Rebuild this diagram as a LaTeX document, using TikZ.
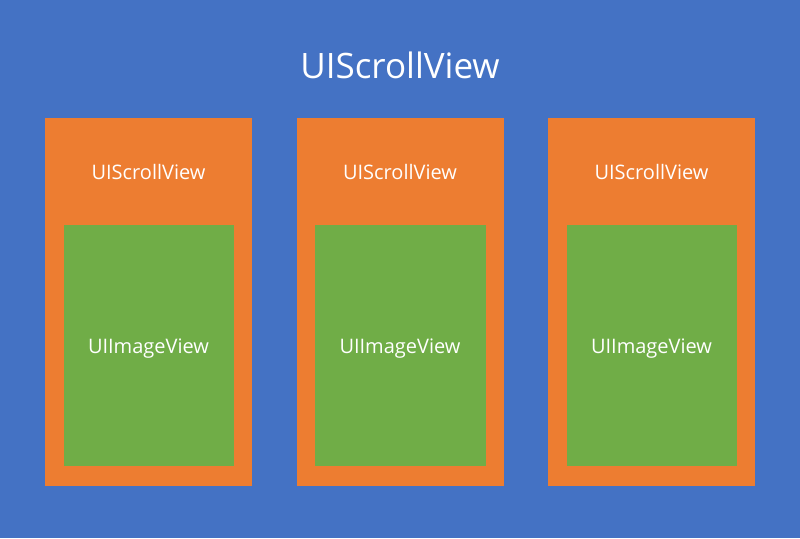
\documentclass[tikz,border=0pt]{standalone}
\usepackage{fontspec}
\setmainfont{Open Sans}
\usepackage{tikz}

\definecolor{viewblue}{HTML}{4472C4}
\definecolor{viewgreen}{HTML}{70AD47}
\definecolor{vieworange}{HTML}{ED7D31}

\begin{document}
\begin{tikzpicture}[x=1pt,y=-1pt,
  label/.style={text=white,inner sep=0pt,font=\fontsize{20}{24}\selectfont}]
\def\boxw{207}
\def\boxh{368}

\fill[viewblue] (0,0) rectangle (800,538);
\node[text=white,inner sep=0pt,font=\fontsize{35}{42}\selectfont] (outer) at (400,65) {UIScrollView};

\fill[vieworange] (45,118) rectangle +(\boxw,\boxh);
\fill[viewgreen] (63.5,225) rectangle +(170.5,241);
\node[label] (scroll1) at (148.5,172) {UIScrollView};
\node[label] (image1) at (148.5,348.5) {UIImageView};

\fill[vieworange] (296.5,118) rectangle +(\boxw,\boxh);
\fill[viewgreen] (315,225) rectangle +(170.5,241);
\node[label] (scroll2) at (400,172) {UIScrollView};
\node[label] (image2) at (400,348.5) {UIImageView};

\fill[vieworange] (548,118) rectangle +(\boxw,\boxh);
\fill[viewgreen] (566.5,225) rectangle +(170.5,241);
\node[label] (scroll3) at (651.5,172) {UIScrollView};
\node[label] (image3) at (651.5,348.5) {UIImageView};
\end{tikzpicture}
\end{document}
